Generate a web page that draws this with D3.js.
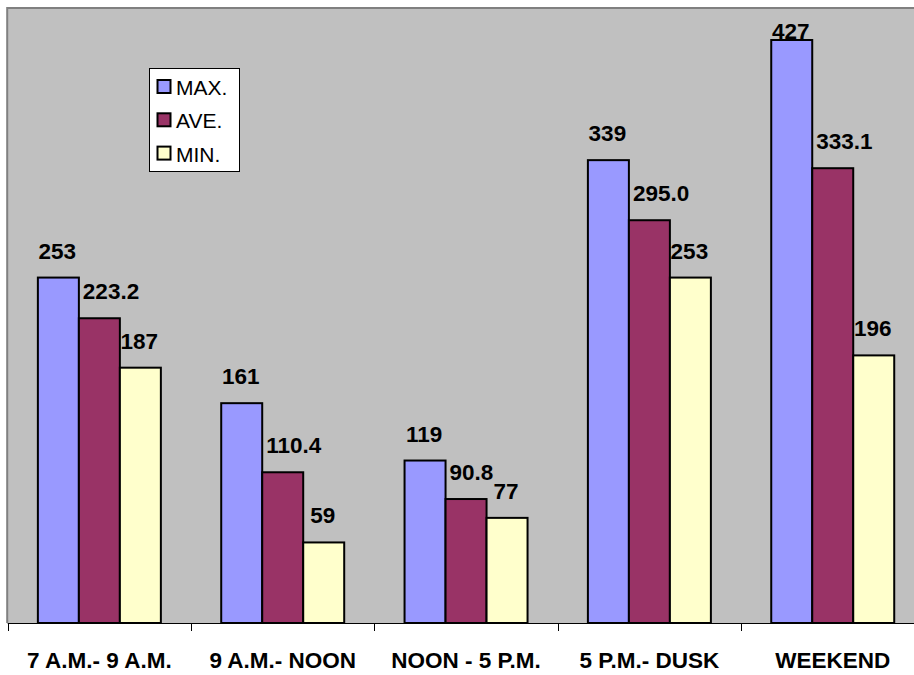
<!DOCTYPE html>
<html>
<head>
<meta charset="utf-8">
<script src="https://cdn.jsdelivr.net/npm/d3@7"></script>
<style>
  html, body { margin: 0; padding: 0; background: #ffffff; }
  svg { display: block; font-family: Arial, "Liberation Sans", sans-serif; }
</style>
</head>
<body>
<svg id="chart" width="914" height="675"></svg>
<script>
// Time periods along the x axis
const categories = ["7 A.M.- 9 A.M.", "9 A.M.- NOON", "NOON - 5 P.M.", "5 P.M.- DUSK", "WEEKEND"];
// Series names and colours
const seriesNames = ["MAX.", "AVE.", "MIN."];
const seriesColors = ["#9999FF", "#993366", "#FFFFCC"];
// Series values per period
const maxValues = [253, 161, 119, 339, 427];
const aveValues = [223.2, 110.4, 90.8, 295.0, 333.1];
const minValues = [187, 59, 77, 253, 196];
// Label formats per series
const labelFormats = [d3.format("d"), d3.format(".1f"), d3.format("d")];

const seriesValues = [maxValues, aveValues, minValues];

const svg = d3.select("#chart");

const plot = { left: 7.7, top: 8.6, bottom: 623, right: 924.4 };

const x0 = d3.scaleBand()
  .domain(categories)
  .range([plot.left, plot.right])
  .padding(0);

const x1 = d3.scaleBand()
  .domain(d3.range(seriesNames.length))
  .range([0, x0.bandwidth()])
  .paddingInner(0)
  .paddingOuter(0.736);

const y = d3.scaleLinear()
  .domain([0, 450])
  .range([plot.bottom, plot.top]);

// Plot background
svg.append("rect")
  .attr("x", plot.left)
  .attr("y", plot.top)
  .attr("width", plot.right - plot.left)
  .attr("height", plot.bottom - plot.top)
  .attr("fill", "#C0C0C0");

// Plot frame (top and left edges)
svg.append("line")
  .attr("x1", plot.left).attr("x2", 914)
  .attr("y1", plot.top - 0.5).attr("y2", plot.top - 0.5)
  .attr("stroke", "#808080").attr("stroke-width", 2);
svg.append("line")
  .attr("x1", plot.left - 0.5).attr("x2", plot.left - 0.5)
  .attr("y1", plot.top - 1.5).attr("y2", plot.bottom)
  .attr("stroke", "#808080").attr("stroke-width", 2);

// Bars
const rows = categories.map((c, i) => ({
  category: c,
  values: seriesValues.map((vals, s) => ({ s, v: vals[i] }))
}));

const groups = svg.append("g").selectAll("g")
  .data(rows)
  .join("g")
  .attr("transform", d => `translate(${x0(d.category)},0)`);

groups.selectAll("rect")
  .data(d => d.values)
  .join("rect")
  .attr("x", d => x1(d.s))
  .attr("y", d => y(d.v))
  .attr("width", x1.bandwidth())
  .attr("height", d => y(0) - y(d.v))
  .attr("fill", d => seriesColors[d.s])
  .attr("stroke", "#000")
  .attr("stroke-width", 2);

// Value labels
groups.selectAll("text")
  .data(d => d.values)
  .join("text")
  .attr("x", d => d.s === 1 ? x1(d.s) + 4 : x1(d.s) + x1.bandwidth() / 2 - 1)
  .attr("y", d => Math.max(y(d.v) - 19, plot.top + 30))
  .attr("text-anchor", d => d.s === 1 ? "start" : "middle")
  .attr("font-size", 22.5)
  .attr("font-weight", "bold")
  .attr("fill", "#000")
  .text(d => labelFormats[d.s](d.v));

// Category axis
const xAxis = d3.axisBottom(x0).tickSize(0).tickPadding(0);
const axisG = svg.append("g")
  .attr("transform", `translate(0,${plot.bottom})`)
  .call(xAxis);
axisG.select(".domain").remove();
axisG.selectAll("text")
  .attr("y", 45)
  .attr("dy", null)
  .attr("font-size", 22.5)
  .attr("font-weight", "bold")
  .attr("font-family", "Arial, 'Liberation Sans', sans-serif")
  .attr("fill", "#000");

svg.append("line")
  .attr("x1", plot.left).attr("x2", 914)
  .attr("y1", plot.bottom + 0.5).attr("y2", plot.bottom + 0.5)
  .attr("stroke", "#000").attr("stroke-width", 1);

// Tick marks between categories
svg.append("g").selectAll("line")
  .data(categories)
  .join("line")
  .attr("x1", d => Math.round(x0(d)) + 0.5)
  .attr("x2", d => Math.round(x0(d)) + 0.5)
  .attr("y1", plot.bottom)
  .attr("y2", plot.bottom + 8)
  .attr("stroke", "#000")
  .attr("stroke-width", 1);

// Legend
const legend = svg.append("g").attr("transform", "translate(149,68)");
legend.append("rect")
  .attr("x", 0.5).attr("y", 0.5)
  .attr("width", 90).attr("height", 103)
  .attr("fill", "#fff")
  .attr("stroke", "#000")
  .attr("stroke-width", 1);

const legendItems = legend.selectAll("g.item")
  .data(seriesNames)
  .join("g")
  .attr("class", "item")
  .attr("transform", (d, i) => `translate(0,${i * 33.3})`);

legendItems.append("rect")
  .attr("x", 8.5).attr("y", 12)
  .attr("width", 13).attr("height", 13)
  .attr("fill", (d, i) => seriesColors[i])
  .attr("stroke", "#000")
  .attr("stroke-width", 2);

legendItems.append("text")
  .attr("x", 27)
  .attr("y", 27)
  .attr("font-size", 21)
  .attr("fill", "#000")
  .text(d => d);
</script>
</body>
</html>
